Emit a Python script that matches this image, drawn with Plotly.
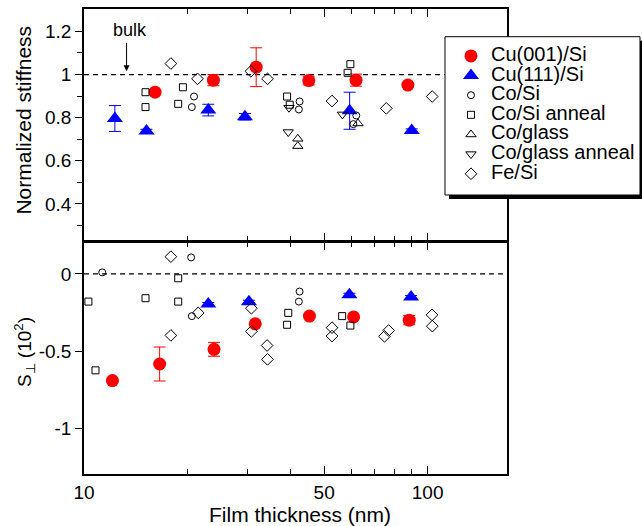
import numpy as np
import plotly.graph_objects as go

# ---------------- data ----------------
# top panel: normalized stiffness
cu001_top_x = [16.1, 23.8, 31.7, 45.1, 61.9, 87.6]
cu001_top_y = [0.918, 0.974, 1.034, 0.972, 0.974, 0.951]
cu001_top_err = [0.005, 0.026, 0.09, 0.02, 0.028, 0.01]

cu111_top_x = [12.3, 15.2, 23.0, 29.4, 59.3, 89.9]
cu111_top_y = [0.796, 0.738, 0.835, 0.804, 0.832, 0.740]
cu111_top_err = [0.06, 0.008, 0.027, 0.015, 0.086, 0.008]

cosi_top_x = [20.9, 20.6, 42.4, 42.2, 62.0, 60.8]
cosi_top_y = [0.898, 0.849, 0.875, 0.838, 0.810, 0.770]

cosiann_top_x = [15.1, 15.1, 18.8, 19.4, 39.0, 39.7, 59.6, 58.5]
cosiann_top_y = [0.918, 0.849, 0.864, 0.941, 0.898, 0.860, 1.048, 1.008]

coglass_top_x = [41.9, 41.9, 62.7]
coglass_top_y = [0.702, 0.668, 0.773]

coglassann_top_x = [39.3, 39.5, 56.5]
coglassann_top_y = [0.733, 0.846, 0.815]

fesi_top_x = [17.9, 21.4, 30.6, 34.2, 52.7, 75.8, 103.1]
fesi_top_y = [1.051, 0.980, 1.015, 0.980, 0.877, 0.843, 0.898]

# bottom panel: S_perp (10^2)
cu001_bot_x = [12.1, 16.6, 23.9, 31.5, 45.3, 60.9, 88.4]
cu001_bot_y = [-0.690, -0.583, -0.488, -0.323, -0.273, -0.278, -0.299]
cu001_bot_err = [0.005, 0.11, 0.045, 0.005, 0.005, 0.005, 0.03]

cu111_bot_x = [23.0, 30.2, 59.2, 89.5]
cu111_bot_y = [-0.195, -0.180, -0.135, -0.150]
cu111_bot_err = [0.01, 0.01, 0.01, 0.01]

cosi_bot_x = [11.3, 20.5, 20.6, 42.4, 42.2]
cosi_bot_y = [0.010, 0.107, -0.273, -0.114, -0.179]

cosiann_bot_x = [10.3, 10.8, 15.1, 18.8, 18.8, 39.3, 39.0, 56.4, 59.6]
cosiann_bot_y = [-0.179, -0.624, -0.157, -0.028, -0.179, -0.252, -0.329, -0.273, -0.334]

fesi_bot_x = [17.9, 17.9, 21.5, 30.7, 30.7, 34.1, 34.2, 52.7, 52.7, 74.9, 77.0, 103.0, 103.2]
fesi_bot_y = [0.112, -0.398, -0.252, -0.222, -0.372, -0.463, -0.553, -0.348, -0.402,
              -0.404, -0.366, -0.265, -0.338]

x_major = [10, 50, 100]
x_major_text = ["10", "50", "100"]
x_minor = [20, 30, 40, 60, 70, 80, 90]
top_major = [0.4, 0.6, 0.8, 1.0, 1.2]
top_major_text = ["0.4", "0.6", "0.8", "1", "1.2"]
top_minor = [0.3, 0.5, 0.7, 0.9, 1.1]
bot_major = [0, -0.5, -1]
bot_major_text = ["0", "-0.5", "-1"]
bulk_level_top = 1.0
zero_level_bot = 0.0

# ---------------- figure ----------------
FONT = "Liberation Sans, Arial, Helvetica, sans-serif"
RED = "#ff0000"
BLUE = "#0000ff"

fig = go.Figure()

def legend_name(name):
    return "<span style='font-size:20px'>" + name + "</span>"

def add(x, y, name, symbol, color, size, panel, showlegend, err=None, filled=False):
    xa, ya = ("x2", "y2") if panel == "top" else ("x", "y")
    marker = dict(symbol=symbol, size=size, color=color)
    if not filled:
        marker["line"] = dict(color="black", width=1)
    kw = {}
    if err is not None:
        kw["error_y"] = dict(type="data", array=err, visible=True, color=color,
                             thickness=1, width=6)
    fig.add_trace(go.Scatter(x=x, y=y, mode="markers", name=legend_name(name),
                             legendgroup=name, showlegend=showlegend, marker=marker,
                             xaxis=xa, yaxis=ya, cliponaxis=False, **kw))

# top panel
add(cu001_top_x, cu001_top_y, "Cu(001)/Si", "circle", RED, 13, "top", True, cu001_top_err, True)
add(cu111_top_x, cu111_top_y, "Cu(111)/Si", "triangle-up", BLUE, 14, "top", True, cu111_top_err, True)
add(cosi_top_x, cosi_top_y, "Co/Si", "circle-open", "black", 7, "top", True)
add(cosiann_top_x, cosiann_top_y, "Co/Si anneal", "square-open", "black", 7, "top", True)
add(coglass_top_x, coglass_top_y, "Co/glass", "triangle-up-open", "black", 9, "top", True)
add(coglassann_top_x, coglassann_top_y, "Co/glass anneal", "triangle-down-open", "black", 9, "top", True)
add(fesi_top_x, fesi_top_y, "Fe/Si", "diamond-open", "black", 9, "top", True)

# bottom panel
add(cu001_bot_x, cu001_bot_y, "Cu(001)/Si", "circle", RED, 13, "bot", False, cu001_bot_err, True)
add(cu111_bot_x, cu111_bot_y, "Cu(111)/Si", "triangle-up", BLUE, 14, "bot", False, cu111_bot_err, True)
add(cosi_bot_x, cosi_bot_y, "Co/Si", "circle-open", "black", 7, "bot", False)
add(cosiann_bot_x, cosiann_bot_y, "Co/Si anneal", "square-open", "black", 7, "bot", False)
add(fesi_bot_x, fesi_bot_y, "Fe/Si", "diamond-open", "black", 9, "bot", False)

XR = [1.0, 2.231]
TOPR = [0.228, 1.304]
BOTR = [-1.295, 0.204]
BOT_DOMAIN = [0, 0.498]
TOP_DOMAIN = [0.5012, 1]

xcommon = dict(type="log", range=XR, showline=True, linecolor="black", linewidth=1.5,
               mirror="ticks", ticks="inside", ticklen=8, tickwidth=1.2, tickcolor="black",
               tickmode="array", tickvals=x_major, ticktext=x_major_text,
               minor=dict(tickmode="array", tickvals=x_minor, ticks="inside", ticklen=5,
                          tickwidth=1, tickcolor="black", showgrid=False),
               showgrid=False, zeroline=False,
               tickfont=dict(family=FONT, size=19, color="black"))

ycommon = dict(showline=True, linecolor="black", linewidth=1.5, mirror=True,
               ticks="outside", ticklen=7, tickwidth=1.2, tickcolor="black",
               showgrid=False, zeroline=False, tickmode="array",
               tickfont=dict(family=FONT, size=19, color="black"))

fig.update_layout(
    width=642, height=526,
    margin=dict(l=84, r=135, t=9, b=52, autoexpand=False),
    paper_bgcolor="white", plot_bgcolor="white",
    font=dict(family=FONT, size=18, color="black"),
    xaxis=dict(xcommon, anchor="y", domain=[0, 1]),
    xaxis2=dict(xcommon, anchor="y2", matches="x", showticklabels=False, domain=[0, 1]),
    yaxis=dict(ycommon, domain=BOT_DOMAIN, range=BOTR, anchor="x",
               tickvals=bot_major, ticktext=bot_major_text),
    yaxis2=dict(ycommon, domain=TOP_DOMAIN, range=TOPR, anchor="x2",
                tickvals=top_major, ticktext=top_major_text,
                minor=dict(tickmode="array", tickvals=top_minor, ticks="outside",
                           ticklen=5, tickwidth=1, tickcolor="black", showgrid=False)),
    yaxis3=dict(overlaying="y", side="right", anchor="x", range=BOTR, showline=False,
                showgrid=False, zeroline=False, ticks="inside", ticklen=7, tickwidth=1.2,
                tickcolor="black", tickmode="array", tickvals=bot_major,
                showticklabels=False),
    yaxis4=dict(overlaying="y2", side="right", anchor="x2", range=TOPR, showline=False,
                showgrid=False, zeroline=False, ticks="inside", ticklen=7, tickwidth=1.2,
                tickcolor="black", tickmode="array", tickvals=top_major,
                showticklabels=False,
                minor=dict(tickmode="array", tickvals=top_minor, ticks="inside",
                           ticklen=5, tickwidth=1, tickcolor="black", showgrid=False)),
    showlegend=True,
    legend=dict(x=0.8676, y=0.931, xanchor="left", yanchor="top",
                bgcolor="rgba(0,0,0,0)", borderwidth=0,
                font=dict(family=FONT, size=12.8, color="black"),
                tracegroupgap=0),
)

# dashed reference lines
fig.add_shape(type="line", xref="x2 domain", yref="y2", x0=0, x1=1,
              y0=bulk_level_top, y1=bulk_level_top,
              line=dict(color="black", width=1.2, dash="5px,4px"), layer="below")
fig.add_shape(type="line", xref="x domain", yref="y", x0=0, x1=1,
              y0=zero_level_bot, y1=zero_level_bot,
              line=dict(color="black", width=1.2, dash="5px,4px"), layer="below")

# legend frame with drop shadow
fig.add_shape(type="rect", xref="paper", yref="paper", x0=0.8629, x1=1.3262,
              y0=0.5914, y1=0.9318, fillcolor="black", line=dict(width=0), layer="above")
fig.add_shape(type="rect", xref="paper", yref="paper", x0=0.8534, x1=1.3144,
              y0=0.600, y1=0.9404, fillcolor="white", line=dict(color="black", width=1),
              layer="above")

# bulk annotation
fig.add_annotation(x=np.log10(13.3), y=1.015, xref="x2", yref="y2", text="",
                   showarrow=True, ax=0, ay=-30, arrowhead=2, arrowsize=1.2,
                   arrowwidth=1, arrowcolor="black")
fig.add_annotation(x=np.log10(13.6), y=1.208, xref="x2", yref="y2", text="bulk",
                   showarrow=False, font=dict(family=FONT, size=18, color="black"))

# axis titles
title_font = dict(family=FONT, size=21, color="black")
fig.add_annotation(x=-0.142, y=0.762, xref="paper", yref="paper", text="Normalized stiffness",
                   textangle=-90, showarrow=False, xanchor="center", yanchor="middle",
                   font=title_font)
fig.add_annotation(x=-0.142, y=0.262, xref="paper", yref="paper",
                   text="S<sub>⊥</sub> (10<sup>2</sup>)",
                   textangle=-90, showarrow=False, xanchor="center", yanchor="middle",
                   font=dict(family=FONT, size=19, color="black"))
fig.add_annotation(x=0.511, y=-0.0861, xref="paper", yref="paper", text="Film thickness (nm)",
                   showarrow=False, xanchor="center", yanchor="middle", font=title_font)

fig.write_html("out.html", config={"displayModeBar": False},
               post_script="document.body.style.margin='0';document.body.style.padding='0';")
